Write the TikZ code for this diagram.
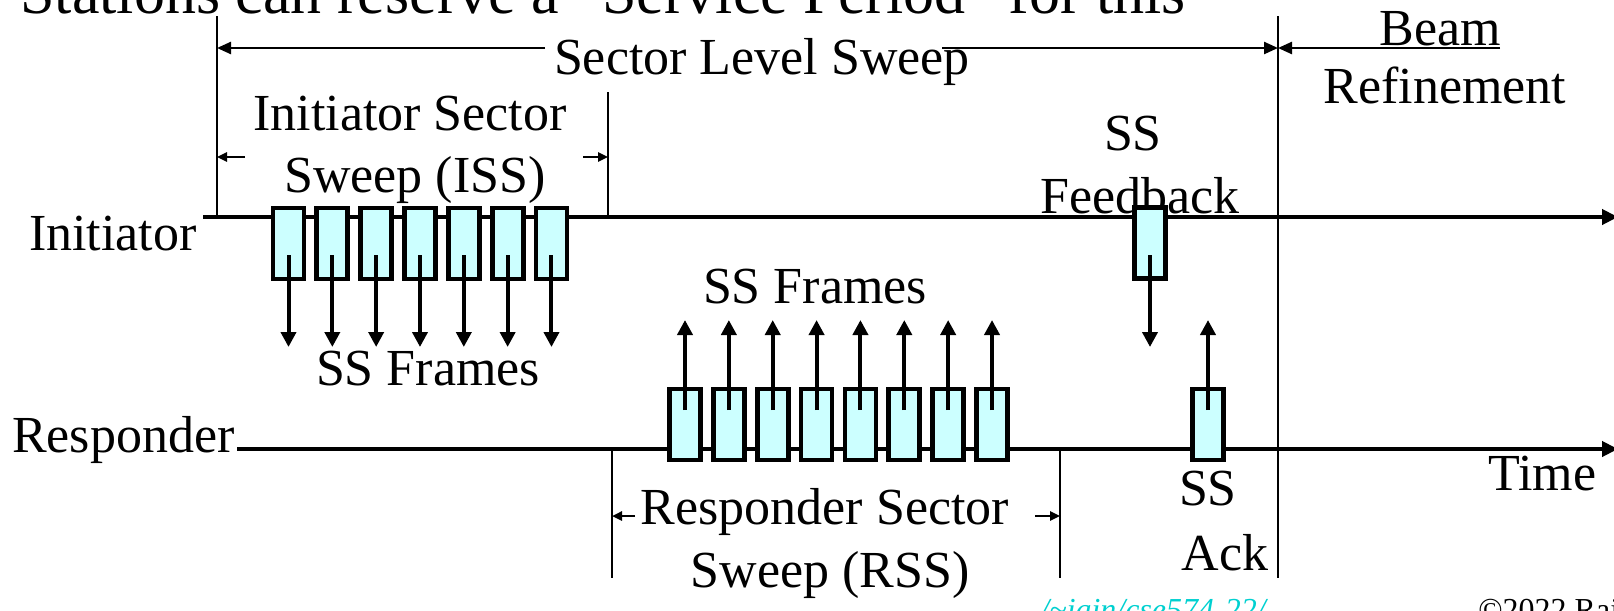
\documentclass[tikz,border=0pt]{standalone}
\usepackage{fontspec}
\setmainfont{Liberation Serif}
\usetikzlibrary{arrows.meta}
\definecolor{framefill}{HTML}{CCFFFF}
\definecolor{linkcyan}{HTML}{00D0D0}
\begin{document}
\begin{tikzpicture}[x=0.5pt,y=-0.5pt,
  lbl/.style={font=\fontsize{26}{28}\selectfont, inner sep=0pt, anchor=base},
  frame/.style={draw, line width=2.4pt, fill=framefill, minimum width=15.5pt, minimum height=35.5pt, inner sep=0pt},
  timeline/.style={line width=2.3pt, -{Triangle[length=8pt,width=7.5pt]}},
  sig/.style={line width=2pt, -{Triangle[length=7.5pt,width=7.5pt]}},
  thinline/.style={line width=1.2pt},
  span/.style={line width=1.2pt, -{Triangle[length=7pt,width=6pt]}},
  smallspan/.style={line width=1.2pt, -{Triangle[length=5pt,width=4.5pt]}}]
\useasboundingbox (0,0) rectangle (1614,611);
\clip (0,0) rectangle (1614,611);

% clipped slide text
\node[lbl, font=\fontsize{31}{33}\selectfont, anchor=base west] (title) at (20,13) {Stations can reserve a “Service Period” for this};
\node[lbl, font=\fontsize{16}{18}\selectfont\itshape, anchor=base west, text=linkcyan] (link) at (1040,620) {/\char"7E jain/cse574-22/};
\node[lbl, font=\fontsize{16}{18}\selectfont, anchor=base west] (copy) at (1478,620) {©2022 Raj Jain};

% station labels
\node[lbl, anchor=base east] (ini) at (197,250) {Initiator};
\node[lbl, anchor=base east] (res) at (235,452) {Responder};
\node[lbl, anchor=base west] (time) at (1488,490) {Time};

% time lines
\coordinate (iL) at (203,217);
\coordinate (iR) at (1618,217);
\coordinate (rL) at (237,449);
\coordinate (rR) at (1618,449);
\draw[timeline] (iL) -- (iR);
\draw[timeline] (rL) -- (rR);

% boundary lines
\coordinate (v1t) at (217,16);   \coordinate (v1b) at (217,217);
\coordinate (v2t) at (608,92);   \coordinate (v2b) at (608,217);
\coordinate (v3t) at (1278,16);  \coordinate (v3b) at (1278,578);
\coordinate (v4t) at (612,449);  \coordinate (v4b) at (612,578);
\coordinate (v5t) at (1060,449); \coordinate (v5b) at (1060,578);
\foreach \v in {v1,v2,v3,v4,v5} \draw[thinline] (\v t) -- (\v b);

% Sector Level Sweep
\node[lbl] (sls) at (762,74) {Sector Level Sweep};
\coordinate (slsA) at (545,48); \coordinate (slsL) at (217,48);
\coordinate (slsB) at (942,48); \coordinate (slsR) at (1278,48);
\draw[span] (slsA) -- (slsL);
\draw[span] (slsB) -- (slsR);

% Beam Refinement
\node[lbl] (beam) at (1440,45) {Beam};
\node[lbl] (refine) at (1445,103) {Refinement};
\coordinate (brA) at (1500,48);
\draw[span] (brA) -- (slsR);

% ISS
\node[lbl] (iss1) at (410,130) {Initiator Sector};
\node[lbl] (iss2) at (415,192) {Sweep (ISS)};
\coordinate (issLa) at (245,157); \coordinate (issL) at (217,157);
\coordinate (issRa) at (583,157); \coordinate (issR) at (608,157);
\draw[smallspan] (issLa) -- (issL);
\draw[smallspan] (issRa) -- (issR);

% ISS frames
\foreach \k in {0,...,6} {
  \node[frame] (if\k) at (288.5+43.83*\k,243.5) {};
  \coordinate (ifs\k) at (288.5+43.83*\k,255);
  \coordinate (ift\k) at (288.5+43.83*\k,347);
  \draw[sig] (ifs\k) -- (ift\k);
}
\node[lbl] (ssf1) at (428,385) {SS Frames};

% RSS frames
\foreach \k in {0,...,7} {
  \node[frame] (rf\k) at (685+43.86*\k,424.5) {};
  \coordinate (rfs\k) at (685+43.86*\k,410);
  \coordinate (rft\k) at (685+43.86*\k,320);
  \draw[sig] (rfs\k) -- (rft\k);
}
\node[lbl] (ssf2) at (815,303) {SS Frames};

% RSS labels
\node[lbl] (rss1) at (825,524) {Responder Sector};
\node[lbl] (rss2) at (830,587) {Sweep (RSS)};
\coordinate (rssLa) at (635,516); \coordinate (rssL) at (612,516);
\coordinate (rssRa) at (1035,516); \coordinate (rssR) at (1060,516);
\draw[smallspan] (rssLa) -- (rssL);
\draw[smallspan] (rssRa) -- (rssR);

% SS Feedback
\node[lbl] (fb1) at (1133,150) {SS};
\node[lbl] (fb2) at (1140,213) {Feedback};
\node[frame] (fb) at (1150,243) {};
\coordinate (fbs) at (1150,255); \coordinate (fbt) at (1150,347);
\draw[sig] (fbs) -- (fbt);

% SS Ack
\node[frame] (ack) at (1208,424.5) {};
\coordinate (acks) at (1208,410); \coordinate (ackt) at (1208,320);
\draw[sig] (acks) -- (ackt);
\node[lbl] (ack1) at (1208,505) {SS};
\node[lbl] (ack2) at (1225,570) {Ack};
\end{tikzpicture}
\end{document}
